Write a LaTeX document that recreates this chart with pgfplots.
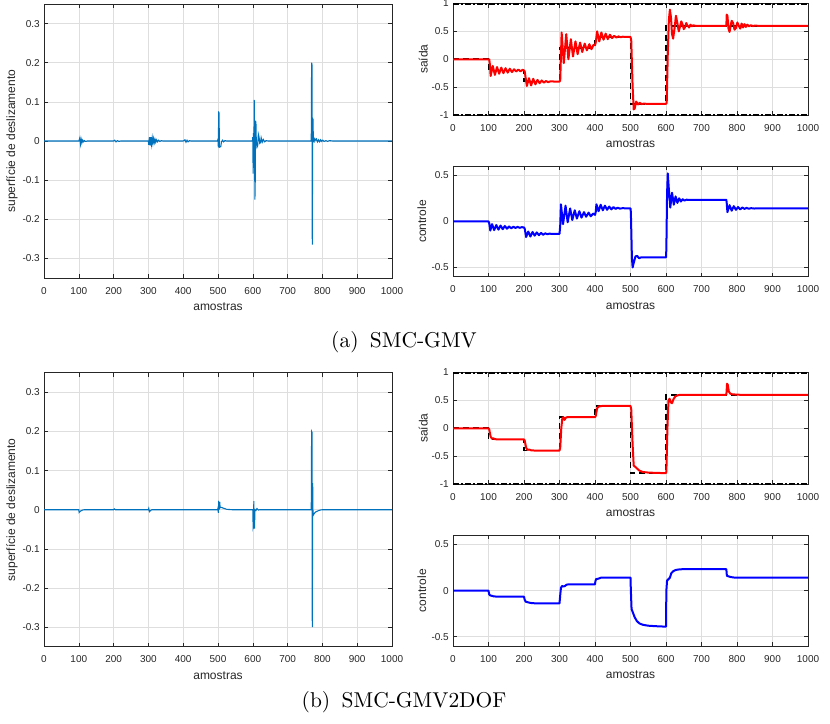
\documentclass[border=0pt]{standalone}
\usepackage{graphicx}
\usepackage{fontspec}
\usepackage{pgfplots}
\pgfplotsset{compat=1.18}
\newfontfamily\plotfont{Liberation Sans}
\definecolor{axgray}{rgb}{0.15,0.15,0.15}
\definecolor{gridgray}{gray}{0.87}
\definecolor{surfblue}{rgb}{0,0.447,0.741}

\pgfplotsset{
  mlab/.style={
    scale only axis,
    xmin=0, xmax=1000,
    xtick={0,100,...,1000},
    xticklabels={0,100,200,300,400,500,600,700,800,900,1000},
    axis line style={draw=axgray, line width=0.6pt},
    tick style={draw=axgray, line width=0.6pt},
    major tick length=4pt,
    tick align=inside,
    xtick pos=both, ytick pos=both,
    grid=major,
    major grid style={draw=gridgray, line width=0.6pt},
    tick label style={font=\plotfont\fontsize{10}{12}\selectfont, text=axgray, inner sep=0pt},
    xticklabel style={anchor=center, yshift=-12.7pt},
    yticklabel style={anchor=east, xshift=-4pt},
    label style={font=\plotfont\fontsize{12}{14}\selectfont, text=axgray, inner sep=0pt},
    xlabel style={at={(axis description cs:0.5,0)}, anchor=center, yshift=-28.5pt},
    xlabel={amostras},
  },
  surf/.style={mlab, width=348pt, height=274pt,
    ymin=-0.35, ymax=0.35,
    ytick={-0.3,-0.2,-0.1,0,0.1,0.2,0.3},
    yticklabels={-0.3,-0.2,-0.1,0,0.1,0.2,0.3},
    ylabel={superfície de deslizamento},
    ylabel style={at={(axis description cs:-0.092,0.5)}, anchor=center}},
  outp/.style={mlab, width=355pt, height=111.5pt,
    ymin=-1, ymax=1, clip=false,
    ytick={-1,-0.5,0,0.5,1},
    yticklabels={-1,-0.5,0,0.5,1},
    ylabel={saída},
    ylabel style={at={(axis description cs:-0.084,0.5)}, anchor=center}},
  ctrl/.style={mlab, width=355pt, height=110.7pt,
    ymin=-0.6, ymax=0.6,
    ytick={-0.5,0,0.5},
    yticklabels={-0.5,0,0.5},
    ylabel={controle},
    ylabel style={at={(axis description cs:-0.088,0.5)}, anchor=center}},
  surfline/.style={surfblue, line width=1.1pt},
  outline/.style={red, line width=2pt, line join=round},
  refline/.style={black, line width=1.8pt, dash pattern=on 6pt off 4pt},
  limline/.style={black, line width=2.2pt, dash pattern=on 6pt off 2pt on 2pt off 2pt},
  ctrlline/.style={blue, line width=2pt, line join=round},
}

\begin{document}
\begin{tikzpicture}
\useasboundingbox (0,0) rectangle (830pt,-723pt);

% ---------------- (a) SMC-GMV ----------------
\begin{axis}[surf, at={(44pt,-278pt)}, anchor=south west]
\addplot[surfline] coordinates {
(0,0)(100,0)(101,0.002)(103,0.008)(105,-0.008)(107,0.004)(109,-0.004)(111,0.002)(113,-0.002)(116,0.001)(119,-0.001)(125,0)
(200,0)(203,0.002)(207,-0.002)(211,0.001)(215,-0.001)(220,0)
(300,0)(301,-0.01)(303,0.01)(305,-0.012)(307,0.01)(309,-0.008)(311,0.008)(313,-0.006)(315,0.006)(317,-0.004)(319,0.004)(321,-0.003)(323,0.003)(326,-0.002)(329,0.002)(333,-0.001)(337,0.001)(342,0)
(400,0)(405,0.003)(408,-0.003)(411,0.002)(414,-0.002)(418,0.001)(422,0)
(499,0)(500,0.006)(501,-0.016)(502,0.073)(503,0.072)(504,-0.016)(506,-0.015)(508,-0.014)(510,-0.002)(513,0.002)(516,-0.002)(520,0.001)(525,0)
(599,0)(600,0.01)(601,-0.083)(602,0.02)(603,-0.06)(604,0.105)(605,0.03)(606,-0.15)(607,-0.1)(608,0.052)(609,0.045)(610,0)(612,-0.016)(614,-0.012)(616,0.017)(618,0.01)(620,-0.006)(622,-0.004)(624,0.008)(627,-0.003)(630,0.004)(634,-0.002)(638,0.001)(645,0)
(768,0)(769,0.2)(770,0.195)(771,-0.265)(772,0.057)(773,0.055)(774,0)(776,-0.002)(778,0.006)(781,0.002)(783,0.005)(786,-0.002)(789,0.003)(792,-0.002)(795,0.003)(798,-0.001)(801,0.002)(805,-0.001)(810,0.001)(815,-0.001)(820,0.001)(830,0)(1000,0)
};
\end{axis}

\begin{axis}[outp, at={(453pt,-115pt)}, anchor=south west]
\addplot[refline] coordinates {(0,0)(100,0)(100,-0.2)(200,-0.2)(200,-0.4)(300,-0.4)(300,0.2)(400,0.2)(400,0.4)(500,0.4)(500,-0.8)(600,-0.8)(600,0.6)(1000,0.6)};
\addplot[outline] coordinates {
(0,0)(100,0)(102,0)(104,-0.1)(106,-0.3)(112,-0.12)(118,-0.28)(124,-0.14)(130,-0.26)(136,-0.15)(142,-0.25)(148,-0.16)(154,-0.24)(160,-0.17)(166,-0.23)(172,-0.18)(178,-0.22)(184,-0.185)(190,-0.215)(196,-0.19)(200,-0.2)
(202,-0.22)(205,-0.35)(208,-0.48)(214,-0.34)(220,-0.47)(226,-0.35)(232,-0.45)(238,-0.37)(244,-0.43)(250,-0.38)(256,-0.42)(262,-0.39)(268,-0.41)(275,-0.395)(285,-0.4)(300,-0.4)
(302,-0.38)(306,0.48)(312,-0.07)(319,0.45)(325,0.0)(332,0.36)(338,0.05)(345,0.32)(351,0.09)(358,0.3)(364,0.13)(371,0.28)(377,0.16)(384,0.27)(390,0.18)(396,0.26)(400,0.25)
(402,0.3)(406,0.5)(412,0.32)(418,0.48)(424,0.35)(430,0.46)(436,0.36)(442,0.44)(448,0.38)(454,0.42)(460,0.39)(466,0.41)(472,0.395)(478,0.405)(485,0.4)(500,0.4)
(502,0.35)(506,-0.5)(509,-0.9)(512,-0.88)(516,-0.76)(521,-0.81)(526,-0.78)(531,-0.805)(538,-0.795)(545,-0.8)(600,-0.8)
(602,-0.78)(605,0.1)(608,0.7)(611,0.89)(614,0.75)(617,0.45)(620,0.37)(624,0.55)(628,0.78)(632,0.65)(636,0.5)(640,0.6)(643,0.68)(647,0.62)(650,0.54)(654,0.58)(657,0.65)(661,0.6)(665,0.57)(669,0.62)(673,0.59)(677,0.61)(682,0.6)(700,0.6)(768,0.6)
(770,0.6)(771,0.8)(773,0.78)(776,0.55)(779,0.49)(782,0.6)(785,0.69)(789,0.65)(793,0.53)(797,0.56)(801,0.66)(805,0.6)(809,0.55)(813,0.64)(817,0.57)(821,0.63)(825,0.58)(829,0.62)(834,0.59)(839,0.61)(845,0.595)(851,0.605)(858,0.6)(1000,0.6)
};
\addplot[limline] coordinates {(0,0.997)(1000,0.997)};
\addplot[limline] coordinates {(0,-1)(1000,-1)};
\end{axis}

\begin{axis}[ctrl, at={(453pt,-276.7pt)}, anchor=south west]
\addplot[ctrlline] coordinates {
(0,0)(100,0)(102,-0.02)(105,-0.1)(110,-0.03)(116,-0.095)(122,-0.04)(128,-0.09)(134,-0.045)(140,-0.085)(146,-0.05)(152,-0.08)(158,-0.055)(164,-0.075)(170,-0.058)(176,-0.072)(182,-0.06)(188,-0.07)(194,-0.063)(200,-0.066)
(202,-0.08)(206,-0.17)(212,-0.11)(218,-0.165)(224,-0.115)(230,-0.155)(236,-0.12)(242,-0.15)(248,-0.125)(254,-0.145)(260,-0.13)(266,-0.14)(272,-0.133)(280,-0.137)(290,-0.135)(300,-0.135)
(302,-0.05)(304,0.185)(310,-0.03)(317,0.17)(323,-0.01)(330,0.14)(336,0.015)(343,0.12)(349,0.03)(356,0.11)(362,0.04)(369,0.1)(375,0.05)(382,0.095)(388,0.055)(395,0.085)(400,0.07)
(402,0.1)(404,0.185)(410,0.11)(416,0.18)(422,0.12)(428,0.17)(434,0.125)(440,0.16)(446,0.13)(452,0.155)(458,0.135)(464,0.148)(470,0.138)(478,0.143)(490,0.14)(500,0.14)
(501,0.1)(504,-0.4)(506,-0.5)(509,-0.45)(514,-0.38)(519,-0.375)(524,-0.4)(530,-0.39)(540,-0.39)(600,-0.39)
(601,-0.3)(603,0.3)(605,0.52)(608,0.35)(612,0.15)(617,0.31)(622,0.18)(627,0.27)(632,0.2)(637,0.25)(642,0.215)(647,0.24)(652,0.225)(658,0.235)(665,0.232)(680,0.233)(770,0.233)
(771,0.2)(773,0.1)(779,0.175)(785,0.115)(791,0.165)(797,0.125)(803,0.155)(809,0.13)(815,0.15)(821,0.135)(827,0.146)(833,0.137)(840,0.143)(848,0.139)(858,0.141)(870,0.14)(1000,0.14)
};
\end{axis}

\node[anchor=center] at (404pt,-341.7pt) {\scalebox{2.145}{(a)\hspace{5.3pt}SMC-GMV}};

% ---------------- (b) SMC-GMV2DOF ----------------
\begin{axis}[surf, at={(44pt,-646.7pt)}, anchor=south west]
\addplot[surfline] coordinates {
(0,0)(100,0)(101,-0.007)(103,-0.005)(106,-0.003)(110,-0.001)(116,0)
(200,0)(202,0.002)(205,0)
(300,0)(301,0.003)(303,-0.005)(306,-0.002)(310,0)
(499,0)(500,0.004)(501,-0.008)(502,0.02)(503,0.019)(504,0)(505,0.02)(506,0.005)(510,0.006)(515,0.004)(525,0.001)(540,0)
(600,0)(601,-0.044)(602,-0.04)(603,0.022)(604,-0.047)(605,-0.047)(606,0)(609,-0.002)(612,0.003)(616,-0.001)(620,0)
(768,0)(769,0.2)(770,0.198)(771,-0.3)(772,0.068)(773,-0.015)(775,-0.012)(778,-0.008)(782,-0.005)(787,-0.003)(793,-0.001)(800,0)(1000,0)
};
\end{axis}

\begin{axis}[outp, at={(453pt,-484pt)}, anchor=south west]
\addplot[refline] coordinates {(0,0)(100,0)(100,-0.2)(200,-0.2)(200,-0.4)(300,-0.4)(300,0.2)(400,0.2)(400,0.4)(500,0.4)(500,-0.8)(600,-0.8)(600,0.6)(1000,0.6)};
\addplot[outline] coordinates {
(0,0)(100,0)(102,-0.02)(106,-0.15)(110,-0.19)(113,-0.18)(118,-0.195)(125,-0.2)(200,-0.2)
(202,-0.22)(206,-0.35)(210,-0.39)(214,-0.38)(220,-0.395)(230,-0.4)(300,-0.4)
(302,-0.35)(305,0.0)(308,0.18)(311,0.2)(314,0.15)(318,0.19)(322,0.2)(400,0.2)
(402,0.22)(406,0.36)(410,0.39)(420,0.4)(500,0.4)
(502,0.35)(506,-0.3)(509,-0.67)(513,-0.69)(518,-0.72)(525,-0.76)(535,-0.785)(550,-0.795)(570,-0.8)(598,-0.805)(600,-0.8)
(601,-0.78)(604,0.0)(607,0.5)(610,0.53)(614,0.46)(617,0.45)(621,0.52)(626,0.57)(632,0.59)(640,0.6)(770,0.6)
(772,0.8)(774,0.78)(777,0.66)(781,0.62)(786,0.61)(795,0.605)(810,0.6)(1000,0.6)
};
\addplot[limline] coordinates {(0,0.997)(1000,0.997)};
\addplot[limline] coordinates {(0,-1)(1000,-1)};
\end{axis}

\begin{axis}[ctrl, at={(453pt,-646pt)}, anchor=south west]
\addplot[ctrlline] coordinates {
(0,0)(100,0)(102,-0.04)(104,-0.05)(108,-0.055)(115,-0.062)(125,-0.065)(200,-0.065)
(202,-0.1)(205,-0.12)(210,-0.125)(218,-0.133)(230,-0.137)(300,-0.137)
(302,-0.05)(304,0.03)(307,0.05)(311,0.045)(315,0.05)(320,0.065)(325,0.068)(400,0.068)
(401,0.1)(403,0.125)(410,0.13)(416,0.14)(425,0.142)(500,0.142)
(501,0.0)(503,-0.2)(507,-0.24)(512,-0.29)(518,-0.33)(525,-0.355)(535,-0.37)(550,-0.38)(570,-0.385)(598,-0.39)(600,-0.39)
(601,0.0)(603,0.11)(607,0.125)(611,0.14)(615,0.19)(620,0.21)(628,0.225)(640,0.232)(770,0.233)
(771,0.18)(772,0.16)(776,0.155)(782,0.148)(790,0.143)(800,0.14)(1000,0.14)
};
\end{axis}

\node[anchor=center] at (404pt,-701.7pt) {\scalebox{2.145}{(b)\hspace{5.3pt}SMC-GMV2DOF}};
\end{tikzpicture}
\end{document}
